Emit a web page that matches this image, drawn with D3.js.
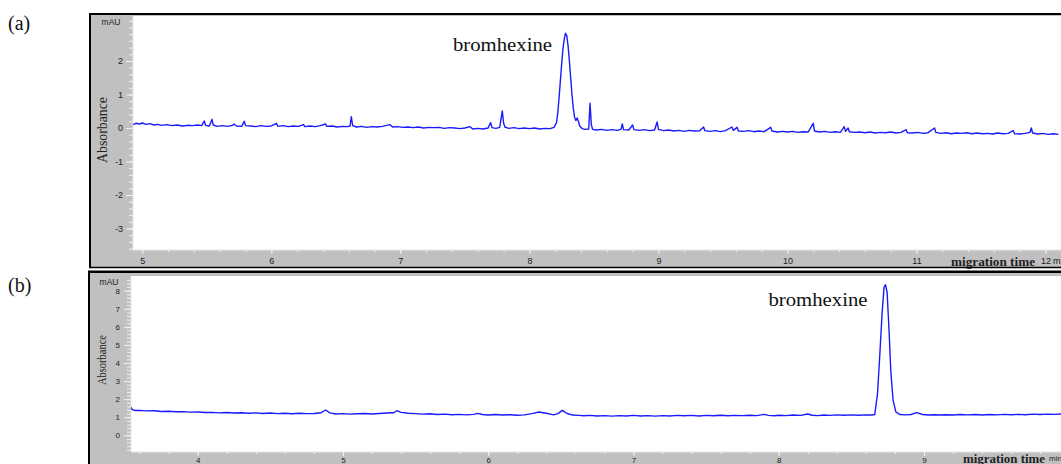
<!DOCTYPE html>
<html><head><meta charset="utf-8">
<script src="https://cdn.jsdelivr.net/npm/d3@7"></script>
<style>body{margin:0;background:#fff;} svg{display:block;}</style>
</head><body>
<svg id="c" width="1061" height="464"></svg>
<script>
// ---------- data ----------
const panelLabels = ["(a)", "(b)"];
const peakLabel = "bromhexine";
const xAxisTitle = "migration time";
const unitY = "mAU";
const unitX = "min";
const yTitle = "Absorbance";
const xTicksA = [5, 6, 7, 8, 9, 10, 11, 12];
const yTicksA = [-3, -2, -1, 0, 1, 2];
const xTicksB = [4, 5, 6, 7, 8, 9];
const yTicksB = [0, 1, 2, 3, 4, 5, 6, 7, 8];

// (a) electropherogram: [migration time (min), absorbance (mAU)]
const traceA = [
[4.93,0.10],[4.95,0.14],[4.98,0.12],[5.00,0.15],[5.03,0.11],[5.06,0.13],[5.09,0.09],[5.12,0.11],[5.15,0.08],[5.19,0.10],
[5.23,0.07],[5.27,0.09],[5.31,0.06],[5.35,0.08],[5.39,0.07],[5.43,0.09],[5.46,0.07],[5.48,0.21],[5.49,0.08],[5.52,0.06],
[5.54,0.26],[5.55,0.09],[5.58,0.05],[5.62,0.07],[5.66,0.05],[5.70,0.08],[5.71,0.12],[5.73,0.06],[5.77,0.05],[5.79,0.20],
[5.80,0.07],[5.84,0.06],[5.88,0.04],[5.92,0.07],[5.96,0.05],[6.00,0.06],[6.04,0.14],[6.05,0.05],[6.09,0.07],[6.13,0.04],
[6.17,0.06],[6.21,0.05],[6.25,0.10],[6.26,0.04],[6.30,0.06],[6.34,0.04],[6.38,0.07],[6.42,0.12],[6.43,0.05],[6.47,0.06],
[6.51,0.03],[6.55,0.05],[6.59,0.04],[6.61,0.06],[6.62,0.34],[6.63,0.07],[6.66,0.03],[6.70,0.05],[6.74,0.02],[6.78,0.04],
[6.82,0.03],[6.86,0.05],[6.92,0.10],[6.94,0.03],[6.98,0.04],[7.02,0.02],[7.06,0.03],[7.10,0.01],[7.14,0.03],[7.18,0.00],
[7.22,0.02],[7.26,0.01],[7.30,0.02],[7.34,-0.01],[7.38,0.01],[7.42,0.00],[7.46,-0.02],[7.50,0.00],[7.54,0.04],[7.56,-0.03],
[7.60,-0.01],[7.64,-0.03],[7.68,0.00],[7.70,0.16],[7.71,0.01],[7.74,-0.01],[7.77,0.02],[7.79,0.51],[7.80,0.15],[7.81,0.03],
[7.84,-0.01],[7.88,0.01],[7.92,-0.02],[7.96,0.00],[8.00,-0.02],[8.04,0.00],[8.08,-0.03],[8.12,-0.01],[8.16,-0.02],[8.19,0.02],
[8.21,0.15],[8.22,0.45],[8.23,0.90],[8.24,1.40],[8.25,1.90],[8.26,2.35],[8.27,2.65],[8.28,2.83],[8.29,2.75],[8.30,2.45],
[8.31,2.00],[8.32,1.50],[8.33,1.00],[8.34,0.60],[8.35,0.33],[8.36,0.22],[8.37,0.30],[8.38,0.20],[8.39,0.06],[8.41,-0.02],
[8.43,-0.04],[8.46,-0.03],[8.47,0.74],[8.48,0.10],[8.49,-0.04],[8.52,-0.06],[8.56,-0.04],[8.60,-0.07],[8.64,-0.05],[8.68,-0.07],
[8.71,-0.04],[8.72,0.12],[8.73,-0.05],[8.77,-0.06],[8.80,0.09],[8.81,-0.05],[8.85,-0.07],[8.89,-0.05],[8.93,-0.08],[8.97,-0.06],
[8.99,0.18],[9.00,-0.04],[9.04,-0.08],[9.08,-0.06],[9.12,-0.09],[9.16,-0.07],[9.20,-0.10],[9.24,-0.07],[9.28,-0.09],[9.32,-0.08],
[9.35,0.03],[9.36,-0.08],[9.40,-0.10],[9.44,-0.08],[9.48,-0.11],[9.52,-0.08],[9.57,0.03],[9.58,-0.07],[9.61,0.02],[9.62,-0.09],
[9.66,-0.10],[9.70,-0.08],[9.74,-0.11],[9.78,-0.09],[9.82,-0.11],[9.87,0.02],[9.88,-0.09],[9.92,-0.12],[9.96,-0.10],[10.00,-0.12],
[10.04,-0.10],[10.08,-0.13],[10.12,-0.11],[10.16,-0.12],[10.20,0.14],[10.21,-0.09],[10.25,-0.12],[10.29,-0.10],[10.33,-0.13],[10.37,-0.11],
[10.41,-0.13],[10.44,0.04],[10.45,-0.10],[10.47,0.00],[10.48,-0.11],[10.52,-0.13],[10.56,-0.12],[10.60,-0.14],[10.64,-0.12],[10.68,-0.15],
[10.72,-0.13],[10.76,-0.14],[10.80,-0.12],[10.84,-0.15],[10.88,-0.13],[10.92,-0.05],[10.93,-0.14],[10.97,-0.15],[11.01,-0.13],[11.05,-0.16],
[11.09,-0.14],[11.14,0.00],[11.15,-0.13],[11.19,-0.16],[11.23,-0.14],[11.27,-0.17],[11.31,-0.15],[11.35,-0.16],[11.39,-0.14],[11.43,-0.17],
[11.47,-0.15],[11.51,-0.17],[11.55,-0.16],[11.59,-0.18],[11.63,-0.15],[11.67,-0.17],[11.71,-0.16],[11.75,-0.08],[11.76,-0.17],[11.80,-0.18],
[11.84,-0.16],[11.88,-0.13],[11.89,0.00],[11.90,-0.15],[11.94,-0.18],[11.98,-0.16],[12.02,-0.19],[12.06,-0.17],[12.10,-0.19]
];

// (b) electropherogram: [migration time (min), absorbance (mAU)]
const traceB = [
[3.54,1.55],[3.55,1.42],[3.57,1.37],[3.60,1.38],[3.65,1.35],[3.70,1.36],[3.75,1.32],[3.80,1.33],[3.85,1.30],[3.90,1.31],
[3.95,1.28],[4.00,1.29],[4.05,1.26],[4.10,1.27],[4.15,1.24],[4.20,1.26],[4.25,1.23],[4.30,1.25],[4.35,1.22],[4.40,1.24],
[4.45,1.21],[4.50,1.23],[4.55,1.20],[4.60,1.22],[4.65,1.19],[4.70,1.22],[4.75,1.20],[4.80,1.21],[4.85,1.25],[4.88,1.40],
[4.91,1.24],[4.95,1.18],[5.00,1.20],[5.05,1.17],[5.10,1.19],[5.15,1.21],[5.20,1.18],[5.25,1.21],[5.30,1.23],[5.35,1.25],
[5.37,1.36],[5.40,1.27],[5.45,1.22],[5.50,1.20],[5.55,1.17],[5.60,1.19],[5.65,1.15],[5.70,1.17],[5.75,1.14],[5.80,1.16],
[5.85,1.13],[5.90,1.16],[5.93,1.21],[5.96,1.15],[6.00,1.12],[6.05,1.15],[6.10,1.12],[6.15,1.14],[6.20,1.11],[6.25,1.13],
[6.30,1.20],[6.35,1.29],[6.40,1.22],[6.45,1.13],[6.48,1.20],[6.51,1.38],[6.54,1.22],[6.58,1.12],[6.62,1.10],[6.66,1.08],
[6.70,1.10],[6.75,1.07],[6.80,1.09],[6.85,1.06],[6.90,1.09],[6.95,1.07],[7.00,1.10],[7.05,1.07],[7.10,1.09],[7.15,1.06],
[7.20,1.09],[7.25,1.07],[7.30,1.10],[7.35,1.08],[7.40,1.10],[7.45,1.07],[7.50,1.10],[7.55,1.08],[7.60,1.11],[7.65,1.08],
[7.70,1.10],[7.75,1.09],[7.80,1.11],[7.85,1.09],[7.90,1.16],[7.93,1.10],[7.97,1.08],[8.00,1.11],[8.05,1.09],[8.10,1.12],
[8.15,1.10],[8.20,1.18],[8.23,1.11],[8.27,1.09],[8.31,1.12],[8.35,1.10],[8.40,1.13],[8.45,1.11],[8.50,1.13],[8.55,1.11],
[8.60,1.13],[8.64,1.12],[8.661,1.15],[8.680,2.30],[8.696,4.50],[8.712,6.80],[8.725,8.20],[8.735,8.33],[8.746,7.90],[8.760,5.70],
[8.771,3.60],[8.787,1.95],[8.806,1.30],[8.833,1.15],[8.87,1.13],[8.91,1.15],[8.95,1.25],[8.99,1.15],[9.03,1.12],[9.07,1.14],
[9.11,1.12],[9.15,1.14],[9.20,1.12],[9.25,1.15],[9.30,1.13],[9.35,1.15],[9.40,1.12],[9.45,1.15],[9.50,1.13],[9.55,1.16],
[9.60,1.14],[9.65,1.16],[9.70,1.14],[9.75,1.17],[9.80,1.15],[9.85,1.17],[9.90,1.16],[9.95,1.18]
];

// ---------- layout ----------
const svg = d3.select("#c");
const W = 1061;
const gray = "#c0c0c0";
const tickCol = "#f2f2f2";
const lineCol = "#1a1aff";
const fmt = v => String(v);   // plain hyphen-minus like the original software

const panels = [
  { label: panelLabels[0], trace: traceA, xTicks: xTicksA, yTicks: yTicksA,
    gray: [91, 15, W, 267], plot: [133, 16, W, 250],
    x: d3.scaleLinear([5, 12], [142.3, 1045.5]), y: d3.scaleLinear([0, 2], [128, 61]),
    yMinor: [-3.6, 3.4], xMinor: [4.8, 12.2], tickFont: 9, xPad: 4, labelY: 30, peakPos: [502.5, 51],
    titleX: 102, titleY: 130, titleLen: 66, titleSize: 15,
    mauY: 25, mauX: 111, axisTitleX: 951, axisTitleY: 266, unitXPos: 1053, yLabRight: 123 },
  { label: panelLabels[1], trace: traceB, xTicks: xTicksB, yTicks: yTicksB,
    gray: [90, 273, W, 470], plot: [131, 276, W, 452],
    x: d3.scaleLinear([4, 9], [197.7, 924]), y: d3.scaleLinear([0, 8], [435.3, 290.7]),
    yMinor: [-0.8, 8.8], xMinor: [3.4, 10], tickFont: 8, xPad: 1, labelY: 292, peakPos: [818, 306],
    titleX: 101, titleY: 360, titleLen: 50, titleSize: 13,
    mauY: 285, mauX: 109, axisTitleX: 963, axisTitleY: 463, unitXPos: 1049, yLabRight: 120 }
];

panels.forEach((p, i) => {
  const g = svg.append("g");
  const [gx0, gy0, gx1, gy1] = p.gray;
  const [px0, py0, px1, py1] = p.plot;
  g.append("rect").attr("x", gx0).attr("y", gy0).attr("width", gx1 - gx0).attr("height", gy1 - gy0).attr("fill", gray);
  g.append("rect").attr("x", px0).attr("y", py0).attr("width", px1 - px0).attr("height", py1 - py0).attr("fill", "#fff");

  // minor y ticks
  const yMinorVals = d3.range(Math.round(p.yMinor[0] * 5), Math.round(p.yMinor[1] * 5) + 1).map(v => v / 5)
    .filter(v => p.y(v) > py0 + 1 && p.y(v) < py1 - 1);
  const yMin = g.append("g").attr("transform", `translate(${px0},0)`)
    .call(d3.axisLeft(p.y).tickValues(yMinorVals).tickSize(4).tickFormat(""));
  yMin.select(".domain").remove();
  yMin.selectAll("line").attr("stroke", tickCol);

  const yMaj = g.append("g").attr("transform", `translate(${px0},0)`)
    .call(d3.axisLeft(p.y).tickValues(p.yTicks).tickFormat(fmt).tickSize(7).tickPadding(3));
  yMaj.select(".domain").remove();
  yMaj.selectAll("line").attr("stroke", tickCol);
  yMaj.selectAll("text").attr("font-family", "Arial, 'Liberation Sans', sans-serif")
    .attr("font-size", p.tickFont).attr("fill", "#222").attr("x", p.yLabRight - px0);

  // minor x ticks
  const xMinorVals = d3.range(Math.round(p.xMinor[0] * 5), Math.round(p.xMinor[1] * 5) + 1).map(v => v / 5)
    .filter(v => p.x(v) > px0 + 1 && p.x(v) < W);
  const xMin = g.append("g").attr("transform", `translate(0,${py1})`)
    .call(d3.axisBottom(p.x).tickValues(xMinorVals).tickSize(2).tickFormat(""));
  xMin.select(".domain").remove();
  xMin.selectAll("line").attr("stroke", tickCol);

  const xMaj = g.append("g").attr("transform", `translate(0,${py1})`)
    .call(d3.axisBottom(p.x).tickValues(p.xTicks).tickFormat(fmt).tickSize(4).tickPadding(p.xPad));
  xMaj.select(".domain").remove();
  xMaj.selectAll("line").attr("stroke", tickCol);
  xMaj.selectAll("text").attr("font-family", "Arial, 'Liberation Sans', sans-serif")
    .attr("font-size", p.tickFont).attr("fill", "#222");

  // axis edge lines
  g.append("line").attr("x1", px0).attr("x2", px0).attr("y1", py0).attr("y2", py1).attr("stroke", "#e6e6e6");
  g.append("line").attr("x1", px0).attr("x2", W).attr("y1", py1).attr("y2", py1).attr("stroke", "#e6e6e6");

  // trace
  const clipId = "clip" + i;
  svg.append("clipPath").attr("id", clipId).append("rect")
    .attr("x", px0).attr("y", py0).attr("width", px1 - px0).attr("height", py1 - py0);
  const line = d3.line().x(d => p.x(d[0])).y(d => p.y(d[1]));
  g.append("path").datum(p.trace).attr("clip-path", `url(#${clipId})`)
    .attr("d", line).attr("fill", "none").attr("stroke", lineCol).attr("stroke-width", 1.4)
    .attr("stroke-linejoin", "round");

  // texts
  g.append("text").attr("x", p.mauX).attr("y", p.mauY).attr("text-anchor", "middle")
    .attr("font-family", "Arial, 'Liberation Sans', sans-serif").attr("font-size", 8.5).attr("fill", "#222").text(unitY);
  g.append("text").attr("transform", `translate(${p.titleX},${p.titleY}) rotate(-90)`)
    .attr("text-anchor", "middle").attr("dominant-baseline", "central")
    .attr("font-family", "'Liberation Serif', 'Times New Roman', serif").attr("font-size", p.titleSize)
    .attr("textLength", p.titleLen).attr("lengthAdjust", "spacingAndGlyphs").attr("fill", "#222").text(yTitle);
  g.append("text").attr("x", p.axisTitleX).attr("y", p.axisTitleY)
    .attr("font-family", "'Liberation Serif', 'Times New Roman', serif").attr("font-size", 13)
    .attr("font-weight", "bold").attr("textLength", i === 0 ? 84 : 82).attr("lengthAdjust", "spacingAndGlyphs")
    .attr("fill", "#222").text(xAxisTitle);
  g.append("text").attr("x", p.unitXPos).attr("y", p.axisTitleY - 2)
    .attr("font-family", "Arial, 'Liberation Sans', sans-serif").attr("font-size", p.tickFont).attr("fill", "#222").text(unitX);
  g.append("text").attr("x", p.peakPos[0]).attr("y", p.peakPos[1]).attr("text-anchor", "middle")
    .attr("font-family", "'Liberation Serif', 'Times New Roman', serif").attr("font-size", 19)
    .attr("textLength", 99).attr("lengthAdjust", "spacingAndGlyphs").attr("fill", "#111").text(peakLabel);
  svg.append("text").attr("x", 8).attr("y", p.labelY).attr("font-family", "'Liberation Serif', 'Times New Roman', serif")
    .attr("font-size", 20).attr("fill", "#111").text(p.label);
});

// frame lines
const fr = svg.append("g").attr("stroke", "#000").attr("fill", "none");
fr.append("line").attr("x1", 89).attr("x2", W).attr("y1", 14).attr("y2", 14).attr("stroke-width", 2);
fr.append("line").attr("x1", 90).attr("x2", 90).attr("y1", 13).attr("y2", 268).attr("stroke-width", 2);
fr.append("line").attr("x1", 89).attr("x2", W).attr("y1", 267.5).attr("y2", 267.5).attr("stroke-width", 1.5);
fr.append("line").attr("x1", 88).attr("x2", W).attr("y1", 271.8).attr("y2", 271.8).attr("stroke-width", 2.4);
fr.append("line").attr("x1", 89).attr("x2", 89).attr("y1", 271).attr("y2", 464).attr("stroke-width", 2);
</script>
</body></html>
